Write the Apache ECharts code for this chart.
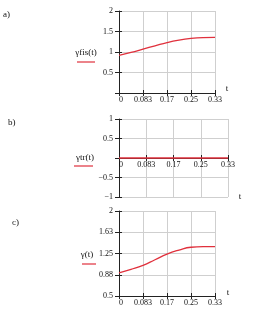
<!DOCTYPE html>
<html><head><meta charset="utf-8">
<script src="https://cdn.jsdelivr.net/npm/echarts@6/dist/echarts.min.js"></script>
<style>html,body{margin:0;padding:0;background:#fff}#c{width:261px;height:313px}</style>
</head><body><div id="c"></div>
<script>
const tValues = [0, 0.0417, 0.0833, 0.125, 0.1667, 0.2083, 0.25, 0.2917, 0.3333];
const gammaFis = [0.92, 0.99, 1.07, 1.15, 1.23, 1.29, 1.33, 1.35, 1.355];
const gammaTr = [0, 0, 0, 0, 0, 0, 0, 0, 0];
const gammaTotal = [0.91, 0.97, 1.04, 1.14, 1.24, 1.31, 1.36, 1.37, 1.37];
const xTickLabels = ['0', '0.083', '0.17', '0.25', '0.33'];
const yTickLabelsA = ['', '0.5', '1', '1.5', '2'];
const yTickLabelsB = ['\u22121', '\u22120.5', '', '0.5', '1'];
const yTickLabelsC = ['0.5', '0.88', '1.25', '1.63', '2'];
const seriesNames = ['\u03b3fis(t)', '\u03b3tr(t)', '\u03b3(t)'];
const panelLabels = ['a)', 'b)', 'c)'];

const font = 'Liberation Serif';
const red = '#e0303c';
const grids = [
  {left: 119, top: 11, width: 96, height: 82},
  {left: 119, top: 119, width: 109, height: 78},
  {left: 119, top: 211, width: 96, height: 85}
];
// panel b: x axis crosses at y = 0, i.e. half way up the plot
const xAxisOffsets = [0, -39, 0];
const yRanges = [
  {min: 0, max: 2, interval: 0.5, labels: yTickLabelsA},
  {min: -1, max: 1, interval: 0.5, labels: yTickLabelsB},
  {min: 0.5, max: 2, interval: 0.375, labels: yTickLabelsC}
];
const seriesData = [gammaFis, gammaTr, gammaTotal];

const xAxes = [], yAxes = [], series = [];
for (let i = 0; i < 3; i++) {
  const base = {gridIndex: i, type: 'value', min: 0, max: 1/3, interval: 1/12, position: 'bottom', offset: xAxisOffsets[i]};
  xAxes.push(Object.assign({}, base, {
    axisLine: {show: true, onZero: false, lineStyle: {color: '#222', width: 1}},
    axisTick: {show: true, length: 3, lineStyle: {color: '#222'}},
    splitLine: {show: true, lineStyle: {color: '#cfcfcf', width: 1}},
    axisLabel: {show: true, margin: 3, fontFamily: font, fontSize: 8, color: '#111',
      alignMinLabel: 'left', formatter: (v, idx) => xTickLabels[idx]}
  }));
  xAxes.push(Object.assign({}, base, {
    axisLine: {show: false, onZero: false},
    axisTick: {show: true, inside: true, length: 3, lineStyle: {color: '#222'}},
    splitLine: {show: false}, axisLabel: {show: false}
  }));
  const r = yRanges[i];
  const ybase = {gridIndex: i, type: 'value', min: r.min, max: r.max, interval: r.interval, position: 'left'};
  yAxes.push(Object.assign({}, ybase, {
    axisLine: {show: true, onZero: false, lineStyle: {color: '#222', width: 1}},
    axisTick: {show: true, length: 4, lineStyle: {color: '#222'}},
    splitLine: {show: true, lineStyle: {color: '#cfcfcf', width: 1}},
    axisLabel: {show: true, margin: 6, fontFamily: font, fontSize: 8, color: '#111',
      formatter: (v, idx) => r.labels[idx]}
  }));
  yAxes.push(Object.assign({}, ybase, {
    axisLine: {show: false, onZero: false},
    axisTick: {show: true, inside: true, length: 3, lineStyle: {color: '#222'}},
    splitLine: {show: false}, axisLabel: {show: false}
  }));
  series.push({
    type: 'line', name: seriesNames[i], xAxisIndex: 2 * i, yAxisIndex: 2 * i,
    data: tValues.map((t, k) => [t, seriesData[i][k]]),
    smooth: true, showSymbol: false, lineStyle: {color: red, width: 1.3}, z: 5
  });
}

const legendPos = [
  {tx: 86, ty: 53, lx1: 77, lx2: 95, ly: 62},
  {tx: 85, ty: 158, lx1: 74, lx2: 93, ly: 166},
  {tx: 87, ty: 255, lx1: 82, lx2: 96, ly: 264}
];
const tPos = [[227, 89], [240, 197], [228, 293]];
const labelPos = [[3, 15], [8, 123], [12, 223]];
const graphic = [];
for (let i = 0; i < 3; i++) {
  const p = legendPos[i];
  graphic.push({type: 'text', x: p.tx, y: p.ty, style: {text: seriesNames[i], font: '9px "' + font + '"', fill: '#111', align: 'center', verticalAlign: 'middle'}});
  graphic.push({type: 'line', shape: {x1: p.lx1, y1: p.ly, x2: p.lx2, y2: p.ly}, style: {stroke: red, lineWidth: 1.2}});
  graphic.push({type: 'text', x: tPos[i][0], y: tPos[i][1], style: {text: 't', font: '9px "' + font + '"', fill: '#111', align: 'center', verticalAlign: 'middle'}});
  graphic.push({type: 'text', x: labelPos[i][0], y: labelPos[i][1], style: {text: panelLabels[i], font: '9px "' + font + '"', fill: '#111', align: 'left', verticalAlign: 'middle'}});
}

const chart = echarts.init(document.getElementById('c'), null, {renderer: 'canvas'});
chart.setOption({
  animation: false, backgroundColor: '#fff',
  grid: grids, xAxis: xAxes, yAxis: yAxes, series: series, graphic: graphic
});
</script></body></html>
